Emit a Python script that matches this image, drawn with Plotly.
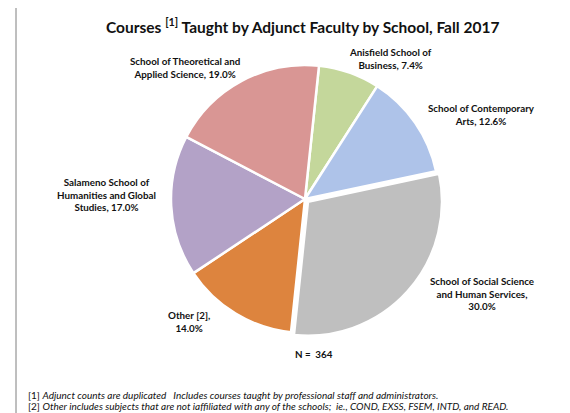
import plotly.graph_objects as go

# Data
schools = ["Anisfield School of Business", "School of Contemporary Arts",
           "School of Social Science and Human Services", "Other [2]",
           "Salameno School of Humanities and Global Studies",
           "School of Theoretical and Applied Science"]
label_lines = [["Anisfield School of", "Business"],
               ["School of Contemporary", "Arts"],
               ["School of Social Science", "and Human Services,", ""],
               ["Other [2],", ""],
               ["Salameno School of", "Humanities and Global", "Studies"],
               ["School of Theoretical and", "Applied Science"]]
percents = [7.4, 12.6, 30.0, 14.0, 17.0, 19.0]
n_total = 364
colors = ["#C4D79B", "#AEC3E9", "#BFBFBF", "#DD843E", "#B3A2C7", "#D99694"]
pulls = [0, 0, 0.03, 0, 0, 0]

# page has an 8px body margin; figure fills the rest of the 570x413 window
OFF = 8
W, H = 570 - OFF, 413 - OFF


def px(x, y):
    return (x - OFF) / W, 1 - (y - OFF) / H


cx, cy, R = 305, 199, 134 * 1.03
x0, y0 = px(cx - R, cy + R)
x1, y1 = px(cx + R, cy - R)

fig = go.Figure(go.Pie(
    labels=schools, values=percents, sort=False, direction="clockwise",
    rotation=6, pull=pulls, textinfo="none", hoverinfo="label+percent",
    marker=dict(colors=colors, line=dict(color="white", width=2.5)),
    domain=dict(x=[x0, x1], y=[y0, y1]),
    showlegend=False,
))

# label positions (pixel centres in the window)
label_pos = [(390, 59), (481, 114), (482, 293), (189, 321), (106, 194), (185, 67)]
FONT = "Lato"
for lines, pct, (x, y) in zip(label_lines, percents, label_pos):
    if lines[-1] == "":
        txt = "<br>".join(lines[:-1]) + "<br>" + f"{pct:.1f}%"
    else:
        txt = "<br>".join(lines[:-1]) + "<br>" + f"{lines[-1]}, {pct:.1f}%"
    ax, ay = px(x, y)
    fig.add_annotation(x=ax, y=ay, xref="paper", yref="paper", text=f"<b>{txt}</b>",
                       showarrow=False, xanchor="center", yanchor="middle", align="center",
                       font=dict(family=FONT, size=9.8, color="#111111"))

ax, ay = px(314, 354)
fig.add_annotation(x=ax, y=ay, xref="paper", yref="paper",
                   text=f"<b>N =&nbsp; {n_total}</b>", showarrow=False, yanchor="middle",
                   font=dict(family=FONT, size=9.8, color="#111111"))

# title
ax, ay = px(302, 26)
fig.add_annotation(x=ax, y=ay, xref="paper", yref="paper",
                   text="<b>Courses <sup>[1]</sup> Taught by Adjunct Faculty by School, Fall 2017</b>",
                   showarrow=False, yanchor="middle", font=dict(family=FONT, size=15.5, color="#111111"))

# footnotes
foot = ["[1] <i>Adjunct counts are duplicated&nbsp;&nbsp; Includes courses taught by professional staff and administrators.</i>",
        "[2] <i>Other includes subjects that are not iaffiliated with any of the schools;&nbsp; ie., COND, EXSS, FSEM, INTD, and READ.</i>"]
for i, t in enumerate(foot):
    ax, ay = px(26, 395 + 10.5 * i)
    fig.add_annotation(x=ax, y=ay, xref="paper", yref="paper", text=t,
                       showarrow=False, xanchor="left", yanchor="middle",
                       font=dict(family=FONT, size=10, color="#111111"))

# border lines
lx, ty = px(16, 4)
fig.add_shape(type="line", xref="paper", yref="paper", x0=lx, x1=1, y0=ty, y1=ty,
              line=dict(color="#7F7F7F", width=1))
fig.add_shape(type="line", xref="paper", yref="paper", x0=lx, x1=lx, y0=ty, y1=0,
              line=dict(color="#7F7F7F", width=1))

fig.update_layout(width=W, height=H, margin=dict(l=0, r=0, t=0, b=0),
                  paper_bgcolor="white", plot_bgcolor="white")
fig.write_html("out.html")
